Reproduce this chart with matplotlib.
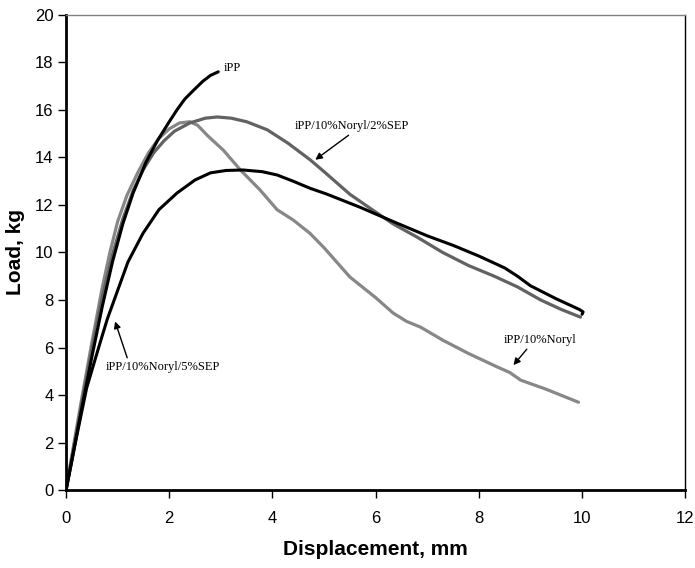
import matplotlib
matplotlib.use("Agg")
import matplotlib.pyplot as plt

# iPP
ipp_x = [0, 0.1, 0.3, 0.5, 0.7, 0.9, 1.1, 1.3, 1.55, 1.77, 2.0, 2.15, 2.3, 2.46, 2.65, 2.8, 2.95]
ipp_y = [0, 1.1, 3.4, 5.6, 7.7, 9.6, 11.2, 12.5, 13.8, 14.7, 15.5, 16.0, 16.45, 16.8, 17.2, 17.45, 17.6]

# iPP/10%Noryl
nor_x = [0, 0.1, 0.3, 0.5, 0.7, 0.85, 1.0, 1.18, 1.4, 1.6, 1.8, 2.0, 2.2, 2.4, 2.55, 2.75,
         3.05, 3.38, 3.76, 4.09, 4.4, 4.73, 5.0, 5.5, 6.0, 6.34, 6.6, 6.87, 7.31, 7.8, 8.36,
         8.6, 8.81, 9.3, 9.93]
nor_y = [0, 1.3, 3.8, 6.2, 8.5, 10.0, 11.3, 12.4, 13.4, 14.2, 14.8, 15.2, 15.45, 15.5, 15.35,
         14.9, 14.3, 13.47, 12.63, 11.8, 11.37, 10.8, 10.2, 8.97, 8.1, 7.45, 7.1, 6.86,
         6.3, 5.75, 5.18, 4.95, 4.63, 4.25, 3.7]

# iPP/10%Noryl/2%SEP
sep2_x = [0, 0.1, 0.3, 0.5, 0.7, 0.9, 1.1, 1.3, 1.5, 1.7, 1.9, 2.1, 2.4, 2.7, 2.93, 3.2, 3.5,
          3.9, 4.3, 4.73, 5.0, 5.5, 6.0, 6.34, 6.8, 7.3, 7.8, 8.3, 8.75, 9.2, 9.6, 9.97]
sep2_y = [0, 1.2, 3.6, 5.9, 8.1, 9.9, 11.4, 12.6, 13.5, 14.2, 14.7, 15.1, 15.45, 15.65, 15.7,
          15.65, 15.5, 15.16, 14.6, 13.9, 13.4, 12.45, 11.7, 11.2, 10.65, 10.0, 9.45, 9.0,
          8.55, 8.0, 7.6, 7.28]

# iPP/10%Noryl/5%SEP
sep5_x = [0, 0.2, 0.4, 0.55, 0.66, 0.8, 0.95, 1.2, 1.49, 1.8, 2.15, 2.5, 2.8, 3.1, 3.43,
          3.8, 4.09, 4.4, 4.73, 5.06, 5.7, 6.34, 7.0, 7.5, 8.0, 8.5, 8.75, 9.0, 9.5, 9.95,
          10.02, 10.0]
sep5_y = [0, 2.2, 4.3, 5.4, 6.2, 7.2, 8.1, 9.6, 10.8, 11.8, 12.5, 13.05, 13.35, 13.45, 13.47,
          13.4, 13.26, 13.0, 12.7, 12.45, 11.9, 11.3, 10.7, 10.3, 9.85, 9.35, 9.0, 8.6,
          8.05, 7.6, 7.5, 7.4]

fig = plt.figure(figsize=(6.95, 5.68), dpi=100)
ax = fig.add_axes([0.095, 0.137, 0.891, 0.837])

ax.plot(nor_x, nor_y, color="#878787", lw=2.3, solid_capstyle="round")
ax.plot(sep2_x, sep2_y, color="#626262", lw=2.3, solid_capstyle="round")
ax.plot(sep5_x, sep5_y, color="black", lw=2.2, solid_capstyle="round")
ax.plot(ipp_x, ipp_y, color="black", lw=2.2, solid_capstyle="round")

serif = "Liberation Serif"
arrow = dict(arrowstyle="-|>", color="black", lw=1, shrinkA=0, shrinkB=0,
             mutation_scale=10)
ax.text(3.05, 17.75, "iPP", fontsize=9, family=serif, va="center")
ax.annotate("iPP/10%Noryl/2%SEP", xy=(4.83, 13.9), xytext=(4.44, 15.3),
            fontsize=9, family=serif, va="center",
            arrowprops=dict(arrow, relpos=(0.5, 0)))
ax.annotate("iPP/10%Noryl", xy=(8.67, 5.26), xytext=(8.48, 6.3),
            fontsize=9, family=serif, va="center",
            arrowprops=dict(arrow, relpos=(0.35, 0)))
ax.annotate("iPP/10%Noryl/5%SEP", xy=(0.95, 7.1), xytext=(0.76, 5.2),
            fontsize=9, family=serif, va="center",
            arrowprops=dict(arrow, relpos=(0.2, 1)))

ax.set_xlim(0, 12)
ax.set_ylim(0, 20)
ax.set_xticks(range(0, 13, 2))
ax.set_yticks(range(0, 21, 2))
ax.tick_params(direction="out", length=6, width=1, labelsize=12)
ax.tick_params(axis="x", pad=9)
ax.tick_params(axis="y", pad=3)
for lab in ax.get_xticklabels() + ax.get_yticklabels():
    lab.set_family("Liberation Sans")

ax.spines["left"].set_linewidth(2)
ax.spines["bottom"].set_linewidth(2)
ax.spines["top"].set_color("#808080")
ax.spines["top"].set_linewidth(1)
ax.spines["right"].set_linewidth(1)

ax.set_xlabel("Displacement, mm", fontsize=15, fontweight="bold",
              family="Liberation Sans", labelpad=10)
ax.set_ylabel("Load, kg", fontsize=15, fontweight="bold",
              family="Liberation Sans")
ax.yaxis.set_label_coords(-0.066, 0.5)

fig.savefig("out.png", dpi=100)
